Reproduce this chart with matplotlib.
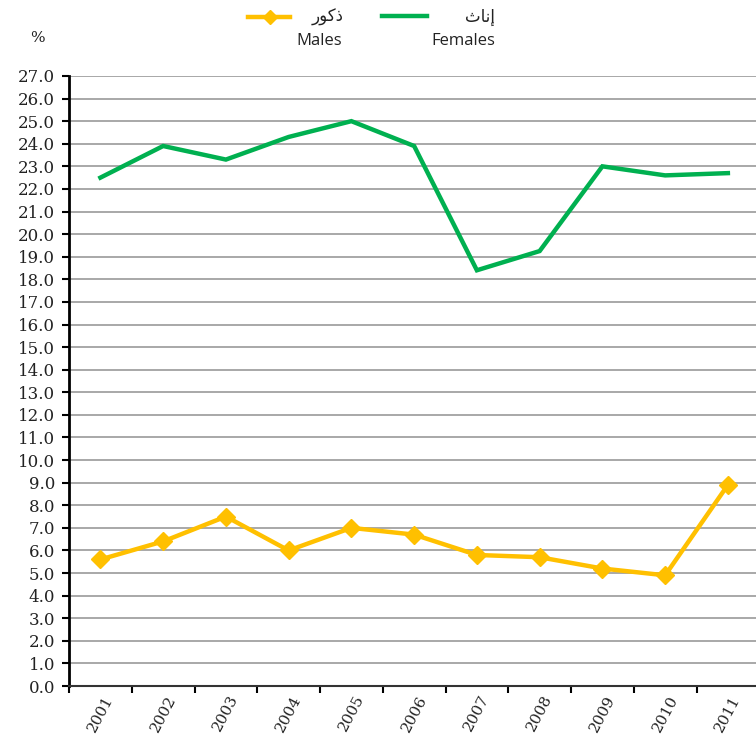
import matplotlib.pyplot as plt
import numpy as np
from matplotlib.lines import Line2D

years = ["2001", "2002", "2003", "2004", "2005", "2006",
         "2007", "2008", "2009", "2010", "2011"]
females = [22.5, 23.9, 23.3, 24.3, 25.0, 23.9, 18.4, 19.25, 23.0, 22.6, 22.7]
males = [5.6, 6.4, 7.5, 6.0, 7.0, 6.7, 5.8, 5.7, 5.2, 4.9, 8.9]

# Arabic labels written in presentation forms (visual order) so they join
label_males_ar = "\uFEAD\uFEEE\uFEDB\uFEAB"    # ذكور
label_females_ar = "\uFE99\uFE8E\uFEE7\uFE87"  # إناث

green = "#00B050"
gold = "#FFC000"

fig = plt.figure(figsize=(7.56, 7.39), dpi=100)
ax = fig.add_axes([0.0913, 0.0717, 0.913, 0.8255])

x = np.arange(len(years))
ax.plot(x, females, color=green, lw=3.2, solid_joinstyle="miter", zorder=3)
ax.plot(x, males, color=gold, lw=3.2, marker="D", markersize=9,
        solid_joinstyle="miter", zorder=3)

ax.set_xlim(-0.5, len(years) - 0.5)
ax.set_ylim(0, 27)
ax.set_yticks(np.arange(0, 27.1, 1.0))
ax.set_yticklabels([f"{v:.1f}" for v in np.arange(0, 27.1, 1.0)],
                   family="DejaVu Serif", fontsize=12, color="#222222")
ax.yaxis.grid(True, color="#a8a8a8", lw=1.4)
ax.set_axisbelow(True)

# category ticks between the labels, like Excel
ax.set_xticks(np.arange(-0.5, len(years) - 0.4, 1.0))
ax.set_xticklabels([])
ax.set_xticks(x, minor=True)
ax.set_xticklabels(years, minor=True, rotation=62, ha="center", va="top",
                   family="DejaVu Serif", fontsize=11, color="#222222")
ax.tick_params(axis="x", which="minor", length=0, pad=5)
ax.tick_params(axis="x", which="major", length=5, width=1.5, direction="out")
ax.tick_params(axis="y", length=5, width=1.5, direction="out", pad=5)

for s in ["top", "right"]:
    ax.spines[s].set_visible(False)
ax.spines["left"].set_linewidth(2)
ax.spines["left"].set_color("black")
ax.spines["bottom"].set_linewidth(1.5)
ax.spines["bottom"].set_color("#333333")

# legend drawn on the figure
fig.add_artist(Line2D([0.328, 0.357, 0.384], [0.977, 0.977, 0.977],
                      color=gold, lw=3.2, marker="D", markersize=7,
                      markevery=[1], transform=fig.transFigure))
fig.add_artist(Line2D([0.505, 0.565], [0.978, 0.978], color=green, lw=3.2,
                      transform=fig.transFigure))
fig.text(0.455, 0.977, label_males_ar, ha="right", va="center",
         family="DejaVu Sans", fontsize=12, color="#222222")
fig.text(0.452, 0.944, "Males", ha="right", va="center",
         family="Open Sans", fontsize=12, color="#222222")
fig.text(0.655, 0.977, label_females_ar, ha="right", va="center",
         family="DejaVu Sans", fontsize=12, color="#222222")
fig.text(0.655, 0.944, "Females", ha="right", va="center",
         family="Open Sans", fontsize=12, color="#222222")
fig.text(0.05, 0.948, "%", ha="center", va="center",
         family="DejaVu Serif", fontsize=11, color="#222222")

fig.savefig("out.png", dpi=100)
